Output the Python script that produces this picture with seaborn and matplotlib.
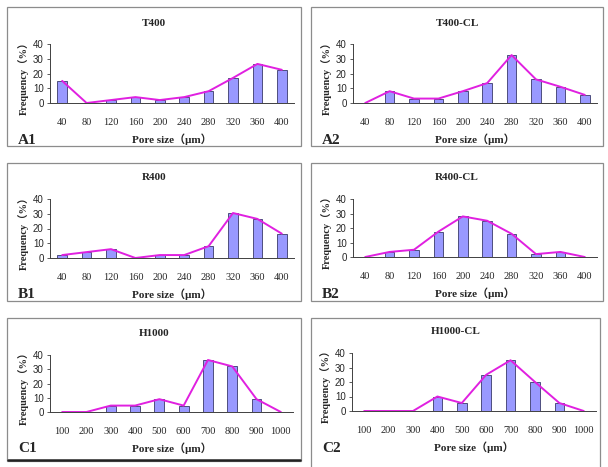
import numpy as np
import matplotlib
matplotlib.use('Agg')
import matplotlib.pyplot as plt
import seaborn as sns
from matplotlib.patches import Rectangle
from matplotlib.lines import Line2D

# pore size categories
sizes_400 = ['40', '80', '120', '160', '200', '240', '280', '320', '360', '400']
sizes_1000 = ['100', '200', '300', '400', '500', '600', '700', '800', '900', '1000']

# frequency (%)
t400 = [15, 0, 2, 4, 2, 4, 8, 17, 26.5, 22.5]
t400_cl = [0, 8, 3, 3, 8, 13.5, 32.5, 16, 11, 5.5]
r400 = [2, 4, 6, 0, 2, 2, 8, 30.5, 26.5, 16.5]
r400_cl = [0, 3.5, 5, 17.5, 28, 25, 16, 2, 3.5, 0]
h1000 = [0, 0, 4.5, 4.5, 9, 4.5, 36.5, 32, 9, 0]
h1000_cl = [0, 0, 0, 10, 5.5, 25, 35, 20, 5.5, 0]

titles = ['T400', 'T400-CL', 'R400', 'R400-CL', 'H1000', 'H1000-CL']
panel_ids = ['A1', 'A2', 'B1', 'B2', 'C1', 'C2']

sns.set_style('white')
plt.rcParams['font.family'] = ['Liberation Serif', 'Noto Sans CJK SC']

W, H = 608, 467
fig = plt.figure(figsize=(W / 100, H / 100), dpi=100)

def fx(x):
    return x / W

def fy(y):
    return 1 - y / H

serif = ['Liberation Serif', 'Noto Sans CJK SC']
bar_col = '#9999ff'
line_col = '#e020e0'

# pixel layout: axes box (left, top, right, bottom), frame box
panels = [
    (sizes_400, t400, (50, 44, 294, 103), (7, 7, 301, 146)),
    (sizes_400, t400_cl, (353, 44, 597, 103), (311, 7, 603, 146)),
    (sizes_400, r400, (50, 199, 294, 258), (7, 163, 301, 301)),
    (sizes_400, r400_cl, (353, 199, 597, 257), (311, 163, 603, 301)),
    (sizes_1000, h1000, (50, 355, 293, 412), (7, 318, 301, 461)),
    (sizes_1000, h1000_cl, (352, 353, 596, 411), (311, 318, 600, 470)),
]

for i, (cats, vals, ab, bb) in enumerate(panels):
    l, t, r, b = ab
    # frame around each panel
    fig.patches.append(Rectangle((fx(bb[0]), fy(bb[3])), fx(bb[2] - bb[0]), (bb[3] - bb[1]) / H,
                                 transform=fig.transFigure, fill=False,
                                 edgecolor='#8c8c8c', linewidth=0.9))
    ax = fig.add_axes([fx(l), fy(b), fx(r - l), (b - t) / H])
    sns.barplot(x=cats, y=vals, ax=ax, color=bar_col, width=0.4,
                edgecolor='#3a3a6a', linewidth=0.6, saturation=1)
    sns.lineplot(x=np.arange(len(cats)), y=vals, ax=ax, color=line_col, linewidth=1.4)
    ax.set_xlim(-0.5, len(cats) - 0.5)
    ax.set_ylim(0, 40)
    ax.set_yticks([0, 10, 20, 30, 40])
    for lab in ax.get_yticklabels():
        lab.set_fontfamily('Liberation Sans')
        lab.set_fontsize(7)
    ax.set_xticks(np.arange(len(cats)))
    ax.set_xticklabels(cats, fontsize=7.5, fontfamily='Liberation Serif')
    ax.set_xticks(np.arange(len(cats)) + 0.5, minor=True)
    ax.tick_params(axis='x', which='major', length=0, pad=11)
    ax.tick_params(axis='x', which='minor', direction='in', length=3, width=0.6, color='#404040')
    ax.tick_params(axis='y', which='major', direction='out', length=2.5, width=0.6,
                   color='#404040', left=True, pad=2)
    for s in ['top', 'right']:
        ax.spines[s].set_visible(False)
    for s in ['left', 'bottom']:
        ax.spines[s].set_color('#404040')
        ax.spines[s].set_linewidth(0.7)
    ax.set_xlabel('')
    ax.set_ylabel('')
    ax.set_facecolor('none')

    # texts
    fig.text(fx((bb[0] + bb[2]) / 2), fy(t - 21), titles[i], ha='center', va='center',
             fontsize=8, fontweight='bold', family=serif)
    fig.text(fx((l + r) / 2), fy(b + 36), 'Pore size（μm）', ha='center', va='center',
             fontsize=8, fontweight='bold', family=serif)
    fig.text(fx(bb[0] + 11), fy(b + 37), panel_ids[i], ha='left', va='center',
             fontsize=11, fontweight='bold', family=serif)
    fig.text(fx(l - 27), fy((t + b) / 2 + 2), 'Frequency（%）', ha='center', va='center',
             rotation=90, fontsize=7.5, fontweight='bold', family=serif)

# thick rule under the last left panel
fig.lines.append(Line2D([fx(8), fx(300)], [fy(460), fy(460)], transform=fig.transFigure,
                        color='#222222', linewidth=1.8))

fig.savefig('out.png', dpi=100)
